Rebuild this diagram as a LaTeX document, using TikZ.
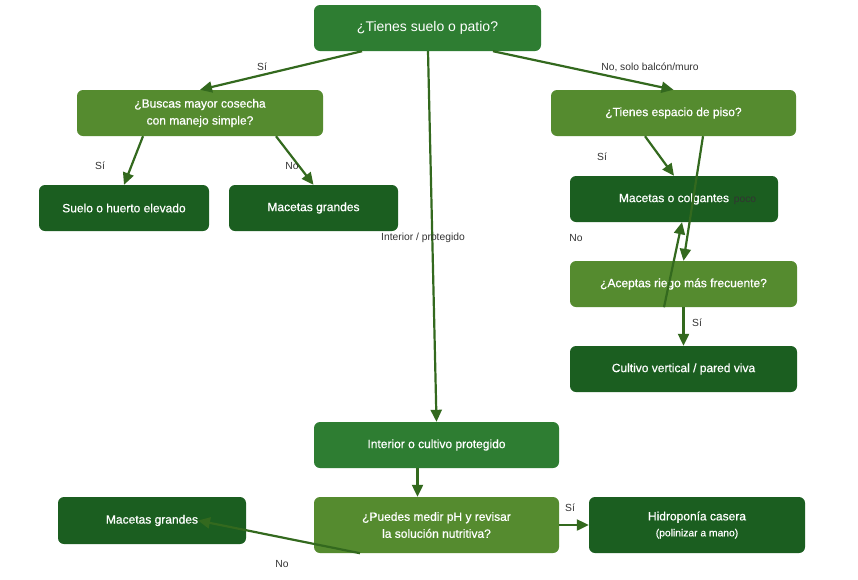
\documentclass[tikz,border=0pt]{standalone}
\usepackage{fontspec}
\setmainfont{Liberation Sans}
\newfontfamily\boxfont{Liberation Sans}[FakeBold=0.6]
\usetikzlibrary{arrows.meta}
\definecolor{cA}{HTML}{2E7D32}
\definecolor{cB}{HTML}{558B2F}
\definecolor{cC}{HTML}{1B5E20}
\definecolor{edgec}{HTML}{33691E}
\definecolor{labc}{HTML}{333333}
\begin{document}
\begin{tikzpicture}[x=1pt,y=-1pt,
  box/.style={rounded corners=6pt, text=white, align=center, inner sep=0pt,
    font=\boxfont\fontsize{12}{17}\selectfont, minimum height=46pt},
  boxA/.style={box, fill=cA},
  boxB/.style={box, fill=cB},
  boxC/.style={box, fill=cC},
  conn/.style={draw=edgec, line width=2.2pt, -{Triangle[length=12pt,width=11pt]}},
  lbl/.style={text=labc, font=\fontsize{10.3}{11}\selectfont, inner sep=1pt}]
\useasboundingbox (0,0) rectangle (858,579);
\fill[white] (0,0) rectangle (858,579);
% nodes
\node[boxA, minimum width=227pt, font=\fontsize{14}{17}\selectfont] (top) at (427.5,28) {¿Tienes suelo o patio?};
\node[boxB, minimum width=246pt] (buscas) at (200,113) {¿Buscas mayor cosecha\\con manejo simple?};
\node[boxC, minimum width=170pt] (suelo) at (124,208) {Suelo o huerto elevado};
\node[boxC, minimum width=169pt] (mac1) at (313.5,208) {Macetas grandes};
\node[boxB, minimum width=245pt] (espacio) at (673.5,113) {¿Tienes espacio de piso?};
\node[boxC, minimum width=208pt] (colg) at (674,199) {Macetas o colgantes};
\node[boxB, minimum width=227pt] (riego) at (683.5,284) {¿Aceptas riego más frecuente?};
\node[boxC, minimum width=227pt] (vert) at (683.5,369) {Cultivo vertical / pared viva};
\node[boxA, minimum width=245pt] (inter) at (436.5,445) {Interior o cultivo protegido};
\node[boxB, minimum width=245pt, minimum height=56pt] (puedes) at (436.5,525) {¿Puedes medir pH y revisar\\la solución nutritiva?};
\node[boxC, minimum width=216pt, minimum height=56pt] (hidro) at (697,525) {Hidroponía casera\\[-1pt]{\fontsize{10.3}{11}\selectfont (polinizar a mano)}};
\node[boxC, minimum width=188pt, minimum height=47pt] (mac2) at (152,520.5) {Macetas grandes};
% connectors
\draw[conn] ([xshift=-65.5pt]top.south) -- (buscas.north);
\draw[conn] ([xshift=0.5pt]top.south) -- (inter.north);
\draw[conn] ([xshift=65.5pt]top.south) -- (espacio.north);
\draw[conn] ([xshift=-57pt]buscas.south) -- (suelo.north);
\draw[conn] ([xshift=76pt]buscas.south) -- (mac1.north);
\draw[conn] ([xshift=-28.5pt]espacio.south) -- (colg.north);
\draw[conn] ([xshift=29.5pt]espacio.south) -- (riego.north);
\draw[conn] ([xshift=-19.5pt]riego.south) -- ([xshift=8pt]colg.south);
\draw[conn] (riego.south) -- (vert.north);
\draw[conn] ([xshift=-19pt]inter.south) -- ([xshift=-19pt]puedes.north);
\draw[conn] (puedes.east) -- (hidro.west);
\draw[conn] ([xshift=-76.5pt]puedes.south) -- ([xshift=46pt]mac2.center);
% labels
\node[lbl] (l1) at (262,67) {Sí};
\node[lbl] (l2) at (650,67) {No, solo balcón/muro};
\node[lbl] (l3) at (100,166) {Sí};
\node[lbl] (l4) at (292,166) {No};
\node[lbl] (l5) at (423,238) {Interior / protegido};
\node[lbl] (l6) at (602,157) {Sí};
\node[lbl] (l7) at (745,201) {poco};
\node[lbl] (l8) at (576,238) {No};
\node[lbl] (l9) at (697,323) {Sí};
\node[lbl] (l10) at (570,508) {Sí};
\node[lbl] (l11) at (282,564) {No};
\end{tikzpicture}
\end{document}
